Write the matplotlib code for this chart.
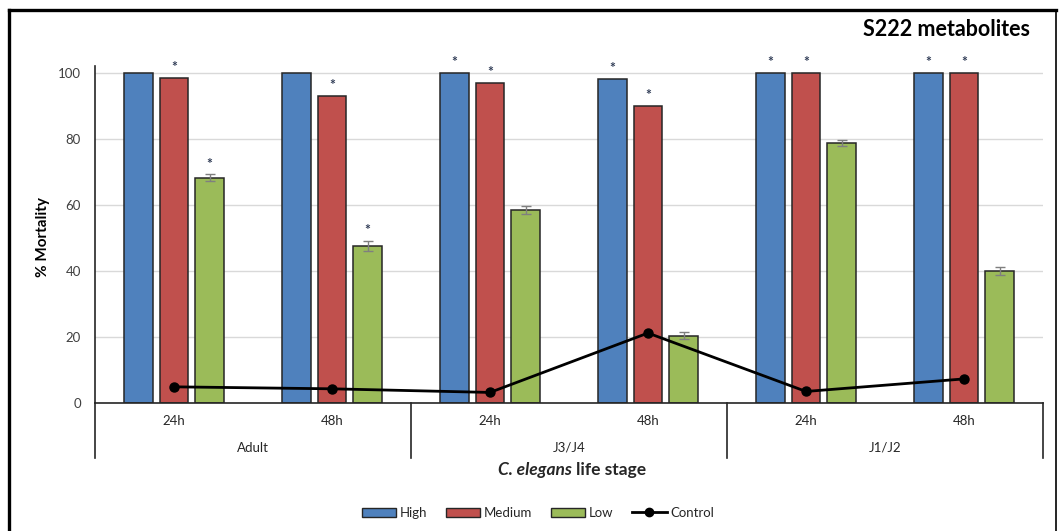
import matplotlib
matplotlib.use("Agg")
import matplotlib.pyplot as plt
import numpy as np
from matplotlib.patches import Patch
from matplotlib.lines import Line2D

plt.rcParams['font.family'] = ['Lato', 'DejaVu Sans']

# Data
stages = ["Adult", "J3/J4", "J1/J2"]
times = ["24h", "48h", "24h", "48h", "24h", "48h"]
series_names = ["High", "Medium", "Low"]
high = [100, 100, 100, 98.3, 100, 100]
medium = [98.5, 93.1, 97.1, 90.1, 100, 100]
low = [68.3, 47.6, 58.5, 20.4, 78.8, 40.0]
low_err = [1.0, 1.5, 1.3, 1.0, 0.8, 1.2]
control = [4.9, 4.3, 3.2, 21.2, 3.5, 7.3]
# significance marks (True = asterisk above the bar)
sig_high = [False, False, True, True, True, True]
sig_medium = [True, True, True, True, True, True]
sig_low = [True, True, False, False, False, False]

colors = ["#4F81BD", "#C0504D", "#9BBB59"]
edge = "#262626"

W, H = 1059, 531
fig = plt.figure(figsize=(W / 100, H / 100), dpi=100)
ax = fig.add_axes([95 / W, 1 - 403 / H, (1043 - 95) / W, (403 - 66.4) / H])

x = np.arange(len(times))
bw = 0.178
step = 0.225
vals = [high, medium, low]
errs = [None, None, low_err]
sigs = [sig_high, sig_medium, sig_low]
for i, (v, e, c, s) in enumerate(zip(vals, errs, colors, sigs)):
    xs = x + (i - 1) * step
    ax.bar(xs, v, width=bw, color=c, edgecolor=edge, linewidth=1.1, zorder=2)
    if e is not None:
        ax.errorbar(xs, v, yerr=e, fmt="none", ecolor="#7f7f7f", elinewidth=1.0,
                    capsize=3.5, capthick=1.0, zorder=3)
    for xi, vi, ei, si in zip(xs, v, e if e is not None else [0] * len(v), s):
        if si:
            ax.text(xi, vi + ei + 3.2, "*", ha="center", va="center",
                    fontsize=10, fontweight="bold", color="#2f3b55", zorder=4)

ax.plot(x, control, color="black", linewidth=2.0, marker="o", markersize=6.5,
        zorder=5)

ax.set_xlim(-0.5, len(times) - 0.5)
ax.set_ylim(0, 102)
ax.set_yticks([0, 20, 40, 60, 80, 100])
ax.yaxis.grid(True, color="#d9d9d9", linewidth=1.0, zorder=0)
ax.set_axisbelow(True)
ax.tick_params(axis="y", length=0, pad=10, labelsize=9.5, labelcolor="#404040")
ax.set_xticks([])
for sp in ["top", "right"]:
    ax.spines[sp].set_visible(False)
ax.spines["left"].set_linewidth(1.2)
ax.spines["left"].set_color("#262626")
ax.spines["bottom"].set_linewidth(1.2)
ax.spines["bottom"].set_color("#262626")

# Two-level category axis
tr = ax.get_xaxis_transform()
px = 1 / (403 - 66.4)  # axes-fraction per pixel vertically
for t, xi in zip(times, x):
    ax.text(xi, -18 * px, t, transform=tr, ha="center", va="center",
            fontsize=9.5, color="#262626")
for k, st in enumerate(stages):
    ax.text(2 * k + 0.5, -45 * px, st, transform=tr, ha="center", va="center",
            fontsize=9.5, color="#262626")
for xb in [-0.5, 1.5, 3.5, 5.5]:
    ax.add_line(Line2D([xb, xb], [0, -55 * px], transform=tr, color="#262626",
                       linewidth=1.2, clip_on=False))

# Axis titles
fig.text(43 / W, 1 - 237 / H, "% Mortality", rotation=90, ha="center",
         va="center", fontsize=11, fontweight="bold", color="black")
fig.text(572 / W, 1 - 470 / H, "C. elegans", ha="right", va="center",
         fontsize=12.5, fontweight="bold", fontstyle="italic", color="#262626")
fig.text(576 / W, 1 - 470 / H, "life stage", ha="left", va="center",
         fontsize=12.5, fontweight="bold", color="#262626")

fig.text(1030 / W, 1 - 30 / H, "S222 metabolites", ha="right", va="center",
         fontsize=15.5, fontweight="bold", color="black")

# Legend
handles = [Patch(facecolor=c, edgecolor=edge, linewidth=1.0) for c in colors]
handles.append(Line2D([], [], color="black", linewidth=2.0, marker="o",
                      markersize=6))
fig.legend(handles, series_names + ["Control"], loc="center",
           bbox_to_anchor=(538 / W, 1 - 513 / H), ncol=4, frameon=False,
           fontsize=9.5, handlelength=2.6, handleheight=0.7, handletextpad=0.3,
           columnspacing=1.4, labelcolor="#262626")

# Outer frame
fig.add_artist(Line2D([9 / W, 1056 / W], [1 - 9.5 / H, 1 - 9.5 / H],
                      transform=fig.transFigure, color="black", linewidth=2.4))
fig.add_artist(Line2D([9 / W, 9 / W], [0, 1 - 9.5 / H],
                      transform=fig.transFigure, color="black", linewidth=2.4))
fig.add_artist(Line2D([1056 / W, 1056 / W], [0, 1 - 9.5 / H],
                      transform=fig.transFigure, color="black", linewidth=1.2))

fig.savefig("out.png", dpi=100)
